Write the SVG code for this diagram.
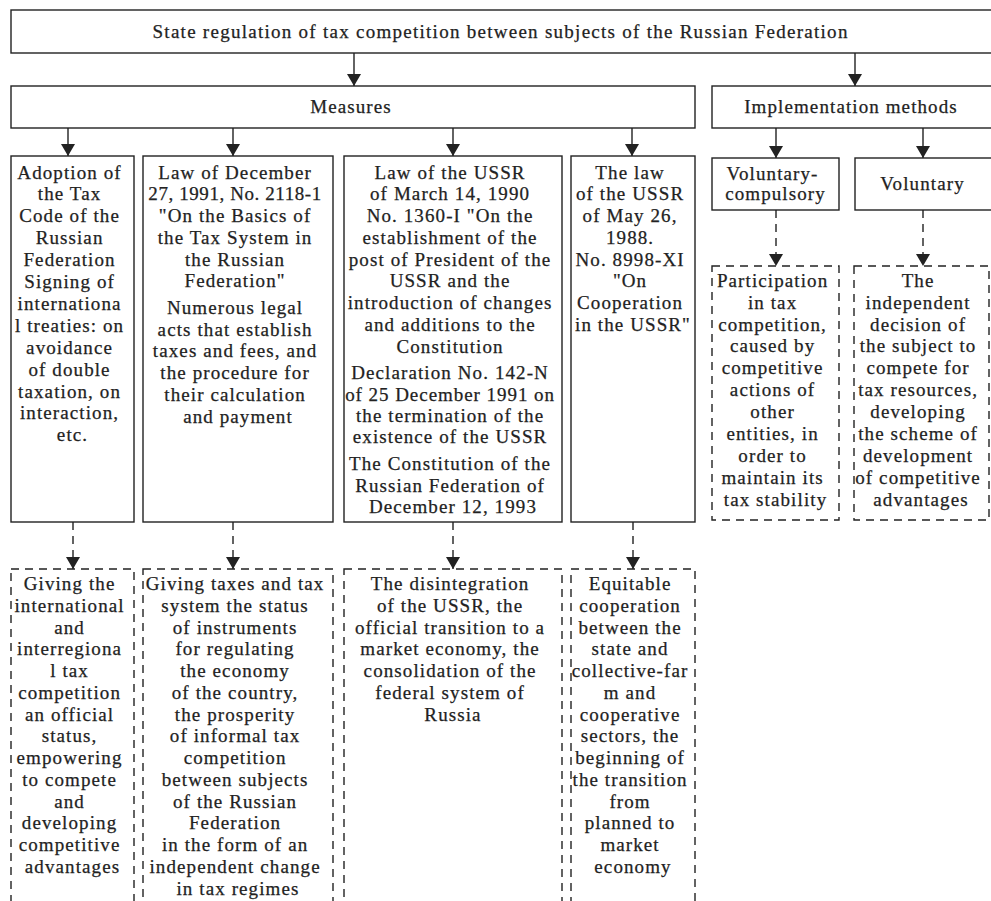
<svg xmlns="http://www.w3.org/2000/svg" width="991" height="901" viewBox="0 0 991 901">
<style>
  .box { fill: #fff; stroke: #222; stroke-width: 1.4; }
  .dbox { fill: #fff; stroke: #222; stroke-width: 1.4; stroke-dasharray: 8 6; }
  .ln { fill: none; stroke: #222; stroke-width: 1.4; }
  .dln { fill: none; stroke: #222; stroke-width: 1.4; stroke-dasharray: 8 6; }
  text { font-family: "Liberation Serif", "Times New Roman", serif; font-size: 19px; fill: #222; stroke: #222; stroke-width: 0.25; text-anchor: middle; letter-spacing: 1.1px; }
</style>
<defs>
  <marker id="ah" viewBox="0 0 12 14" refX="12" refY="7" markerWidth="12" markerHeight="14" markerUnits="userSpaceOnUse" orient="auto">
    <path d="M0,0 L12,7 L0,14 z" fill="#222"/>
  </marker>
</defs>
<rect width="991" height="901" fill="#fff"/>

<g id="connectors">
  <line class="ln" x1="354" y1="53" x2="354" y2="86" marker-end="url(#ah)"/>
  <line class="ln" x1="855" y1="53" x2="855" y2="86" marker-end="url(#ah)"/>
  <line class="ln" x1="68" y1="128" x2="68" y2="156" marker-end="url(#ah)"/>
  <line class="ln" x1="233" y1="128" x2="233" y2="156" marker-end="url(#ah)"/>
  <line class="ln" x1="453" y1="128" x2="453" y2="156" marker-end="url(#ah)"/>
  <line class="ln" x1="632" y1="128" x2="632" y2="156" marker-end="url(#ah)"/>
  <line class="ln" x1="776" y1="128" x2="776" y2="158" marker-end="url(#ah)"/>
  <line class="ln" x1="923" y1="128" x2="923" y2="158" marker-end="url(#ah)"/>
  <line class="dln" x1="776" y1="210" x2="776" y2="266" marker-end="url(#ah)"/>
  <line class="dln" x1="923" y1="210" x2="923" y2="266" marker-end="url(#ah)"/>
  <line class="dln" x1="73" y1="522" x2="73" y2="569" marker-end="url(#ah)"/>
  <line class="dln" x1="233" y1="522" x2="233" y2="569" marker-end="url(#ah)"/>
  <line class="dln" x1="453" y1="522" x2="453" y2="569" marker-end="url(#ah)"/>
  <line class="dln" x1="633" y1="522" x2="633" y2="569" marker-end="url(#ah)"/>
</g>

<g id="title">
  <rect class="box" x="11" y="10" width="985" height="43"/>
  <text x="500.5" y="38" textLength="696" lengthAdjust="spacing">State regulation of tax competition between subjects of the Russian Federation</text>
</g>

<g id="measures">
  <rect class="box" x="11" y="86" width="684" height="42"/>
  <text x="351" y="113">Measures</text>
</g>

<g id="methods">
  <rect class="box" x="712" y="86" width="284" height="42"/>
  <text x="851" y="113">Implementation methods</text>
</g>

<g id="m1">
  <rect class="box" x="11" y="156" width="123" height="366"/>
  <text>
    <tspan x="72.5" y="178.5">Adoption of</tspan>
    <tspan x="72.5" y="200.4">the Tax</tspan>
    <tspan x="72.5" y="222.3">Code of the</tspan>
    <tspan x="72.5" y="244.2">Russian</tspan>
    <tspan x="72.5" y="266.1">Federation</tspan>
    <tspan x="72.5" y="288">Signing of</tspan>
    <tspan x="72.5" y="309.9">internationa</tspan>
    <tspan x="72.5" y="331.8">l treaties: on</tspan>
    <tspan x="72.5" y="353.7">avoidance</tspan>
    <tspan x="72.5" y="375.6">of double</tspan>
    <tspan x="72.5" y="397.5">taxation, on</tspan>
    <tspan x="72.5" y="419.4">interaction,</tspan>
    <tspan x="72.5" y="441.3">etc.</tspan>
  </text>
</g>

<g id="m2">
  <rect class="box" x="143" y="156" width="190" height="366"/>
  <text>
    <tspan x="238" y="178.5">Law of December</tspan>
    <tspan x="238" y="200.25" textLength="174" lengthAdjust="spacing">27, 1991, No. 2118-1</tspan>
    <tspan x="238" y="222">"On the Basics of</tspan>
    <tspan x="238" y="243.75">the Tax System in</tspan>
    <tspan x="238" y="265.5">the Russian</tspan>
    <tspan x="238" y="287.25">Federation"</tspan>
    <tspan x="238" y="313.75">Numerous legal</tspan>
    <tspan x="238" y="335.5">acts that establish</tspan>
    <tspan x="238" y="357.25">taxes and fees, and</tspan>
    <tspan x="238" y="379">the procedure for</tspan>
    <tspan x="238" y="400.75">their calculation</tspan>
    <tspan x="238" y="422.5">and payment</tspan>
  </text>
</g>

<g id="m3">
  <rect class="box" x="344" y="156" width="218" height="366"/>
  <text>
    <tspan x="453" y="178.5">Law of the USSR</tspan>
    <tspan x="453" y="200.25">of March 14, 1990</tspan>
    <tspan x="453" y="222">No. 1360-I "On the</tspan>
    <tspan x="453" y="243.75">establishment of the</tspan>
    <tspan x="453" y="265.5">post of President of the</tspan>
    <tspan x="453" y="287.25">USSR and the</tspan>
    <tspan x="453" y="309">introduction of changes</tspan>
    <tspan x="453" y="330.75">and additions to the</tspan>
    <tspan x="453" y="352.5">Constitution</tspan>
    <tspan x="453" y="379">Declaration No. 142-N</tspan>
    <tspan x="453" y="400.5" textLength="210" lengthAdjust="spacing">of 25 December 1991 on</tspan>
    <tspan x="453" y="421.75">the termination of the</tspan>
    <tspan x="453" y="443">existence of the USSR</tspan>
    <tspan x="453" y="470">The Constitution of the</tspan>
    <tspan x="453" y="491.5">Russian Federation of</tspan>
    <tspan x="453" y="513">December 12, 1993</tspan>
  </text>
</g>

<g id="m4">
  <rect class="box" x="571" y="156" width="124" height="366"/>
  <text>
    <tspan x="633" y="178.5">The law</tspan>
    <tspan x="633" y="200.25">of the USSR</tspan>
    <tspan x="633" y="222">of May 26,</tspan>
    <tspan x="633" y="243.75">1988.</tspan>
    <tspan x="633" y="265.5">No. 8998-XI</tspan>
    <tspan x="633" y="287.25">"On</tspan>
    <tspan x="633" y="309">Cooperation</tspan>
    <tspan x="633" y="330.75">in the USSR"</tspan>
  </text>
</g>

<g id="vc">
  <rect class="box" x="712" y="158" width="127" height="52"/>
  <text>
    <tspan x="775.5" y="180">Voluntary-</tspan>
    <tspan x="775.5" y="200">compulsory</tspan>
  </text>
</g>

<g id="v">
  <rect class="box" x="855" y="158" width="141" height="52"/>
  <text x="922.5" y="190">Voluntary</text>
</g>

<g id="vc-result">
  <rect class="dbox" x="712" y="266" width="127" height="254"/>
  <text>
    <tspan x="775.5" y="286.7">Participation</tspan>
    <tspan x="775.5" y="308.6">in tax</tspan>
    <tspan x="775.5" y="330.5">competition,</tspan>
    <tspan x="775.5" y="352.4">caused by</tspan>
    <tspan x="775.5" y="374.3">competitive</tspan>
    <tspan x="775.5" y="396.2">actions of</tspan>
    <tspan x="775.5" y="418.1">other</tspan>
    <tspan x="775.5" y="440">entities, in</tspan>
    <tspan x="775.5" y="461.9">order to</tspan>
    <tspan x="775.5" y="483.8">maintain its</tspan>
    <tspan x="775.5" y="505.7">tax stability</tspan>
  </text>
</g>

<g id="v-result">
  <rect class="dbox" x="854" y="266" width="135" height="254"/>
  <text>
    <tspan x="921" y="286.7">The</tspan>
    <tspan x="921" y="308.6">independent</tspan>
    <tspan x="921" y="330.5">decision of</tspan>
    <tspan x="921" y="352.4">the subject to</tspan>
    <tspan x="921" y="374.3">compete for</tspan>
    <tspan x="921" y="396.2">tax resources,</tspan>
    <tspan x="921" y="418.1">developing</tspan>
    <tspan x="921" y="440">the scheme of</tspan>
    <tspan x="921" y="461.9">development</tspan>
    <tspan x="921" y="483.8">of competitive</tspan>
    <tspan x="921" y="505.7">advantages</tspan>
  </text>
</g>

<g id="r1">
  <rect class="dbox" x="11" y="569" width="123" height="345"/>
  <text>
    <tspan x="72.5" y="590">Giving the</tspan>
    <tspan x="72.5" y="611.75">international</tspan>
    <tspan x="72.5" y="633.5">and</tspan>
    <tspan x="72.5" y="655.25">interregiona</tspan>
    <tspan x="72.5" y="677">l tax</tspan>
    <tspan x="72.5" y="698.75">competition</tspan>
    <tspan x="72.5" y="720.5">an official</tspan>
    <tspan x="72.5" y="742.25">status,</tspan>
    <tspan x="72.5" y="764">empowering</tspan>
    <tspan x="72.5" y="785.75">to compete</tspan>
    <tspan x="72.5" y="807.5">and</tspan>
    <tspan x="72.5" y="829.25">developing</tspan>
    <tspan x="72.5" y="851">competitive</tspan>
    <tspan x="72.5" y="872.75">advantages</tspan>
  </text>
</g>

<g id="r2">
  <rect class="dbox" x="143" y="569" width="190" height="345"/>
  <text>
    <tspan x="238" y="590">Giving taxes and tax</tspan>
    <tspan x="238" y="611.75">system the status</tspan>
    <tspan x="238" y="633.5">of instruments</tspan>
    <tspan x="238" y="655.25">for regulating</tspan>
    <tspan x="238" y="677">the economy</tspan>
    <tspan x="238" y="698.75">of the country,</tspan>
    <tspan x="238" y="720.5">the prosperity</tspan>
    <tspan x="238" y="742.25">of informal tax</tspan>
    <tspan x="238" y="764">competition</tspan>
    <tspan x="238" y="785.75">between subjects</tspan>
    <tspan x="238" y="807.5">of the Russian</tspan>
    <tspan x="238" y="829.25">Federation</tspan>
    <tspan x="238" y="851">in the form of an</tspan>
    <tspan x="238" y="872.75">independent change</tspan>
    <tspan x="238" y="894.5">in tax regimes</tspan>
  </text>
</g>

<g id="r3">
  <rect class="dbox" x="344" y="569" width="218" height="345"/>
  <text>
    <tspan x="453" y="590">The disintegration</tspan>
    <tspan x="453" y="611.75">of the USSR, the</tspan>
    <tspan x="453" y="633.5">official transition to a</tspan>
    <tspan x="453" y="655.25">market economy, the</tspan>
    <tspan x="453" y="677">consolidation of the</tspan>
    <tspan x="453" y="698.75">federal system of</tspan>
    <tspan x="453" y="720.5">Russia</tspan>
  </text>
</g>

<g id="r4">
  <rect class="dbox" x="571" y="569" width="124" height="345"/>
  <text>
    <tspan x="633" y="590">Equitable</tspan>
    <tspan x="633" y="611.75">cooperation</tspan>
    <tspan x="633" y="633.5">between the</tspan>
    <tspan x="633" y="655.25">state and</tspan>
    <tspan x="633" y="677">collective-far</tspan>
    <tspan x="633" y="698.75">m and</tspan>
    <tspan x="633" y="720.5">cooperative</tspan>
    <tspan x="633" y="742.25">sectors, the</tspan>
    <tspan x="633" y="764">beginning of</tspan>
    <tspan x="633" y="785.75">the transition</tspan>
    <tspan x="633" y="807.5">from</tspan>
    <tspan x="633" y="829.25">planned to</tspan>
    <tspan x="633" y="851">market</tspan>
    <tspan x="633" y="872.75">economy</tspan>
  </text>
</g>
</svg>
